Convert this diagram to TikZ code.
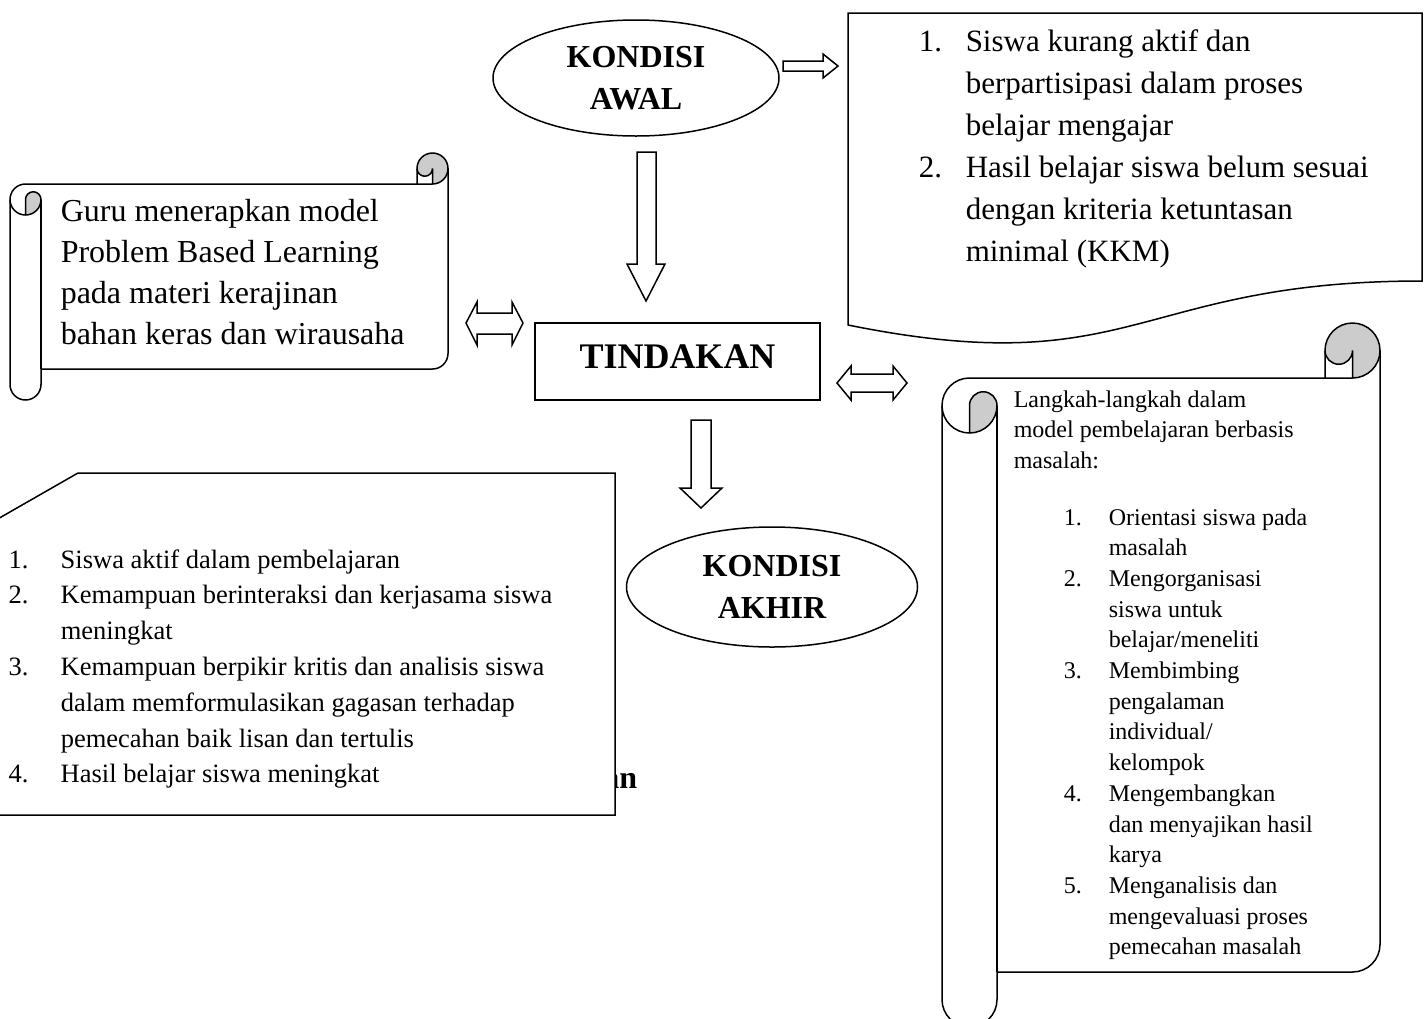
\documentclass[tikz,border=0pt]{standalone}
\usepackage{fontspec}
\setmainfont{Liberation Serif}
\usetikzlibrary{shapes.geometric}

% horizontal scroll: left, top, right, bottom, roll size
\newcommand{\scrollshape}[5]{
	\pgfmathsetmacro{\schh}{#5/2}
	\pgfmathsetmacro{\schq}{#5/4}
	\pgfmathsetmacro{\sxa}{#3-#5}
	\pgfmathsetmacro{\sxb}{#3-#5/2}
	\pgfmathsetmacro{\sla}{#1+#5}
	\pgfmathsetmacro{\slb}{#1+#5/2}
	\pgfmathsetmacro{\sta}{#2+#5}
	\pgfmathsetmacro{\stb}{#2+#5/2}
	\pgfmathsetmacro{\syc}{#2+1.5*#5}
	\pgfmathsetmacro{\syd}{#2+2*#5}
	\pgfmathsetmacro{\sye}{#4-1.5*#5}
	\pgfmathsetmacro{\syf}{#4-#5}
	\pgfmathsetmacro{\syg}{#4-#5/2}
	\path [save path = \scrollp] (#1,\syc) arc [start angle = 180, delta angle = 90, radius = \schh]
		-- (\sxa,\sta) -- (\sxa,\stb) arc [start angle = 180, delta angle = 180, radius = \schh]
		-- (#3,\sye) arc [start angle = 0, delta angle = 90, radius = \schh]
		-- (\sla,\syf) -- (\sla,\syg) arc [start angle = 0, delta angle = 180, radius = \schh] -- cycle;
	\fill [white, use path = \scrollp];
	% shaded curls
	\fill [scrollgray] (\slb,\syd) arc [start angle = 90, delta angle = -90, radius = \schh]
		arc [start angle = 0, delta angle = -180, radius = \schq] -- cycle;
	\fill [scrollgray] (\sxb,\sta) arc [start angle = 90, delta angle = -270, radius = \schh]
		arc [start angle = 180, delta angle = -180, radius = \schq] -- cycle;
	% curl lines
	\draw (\sxa,\sta) -- (\sxb,\sta) arc [start angle = 90, delta angle = -90, radius = \schh];
	\draw (\sxb,\sta) -- (\sxb,\stb) arc [start angle = 0, delta angle = 180, radius = \schq];
	\draw (\slb,\syd) -- (\slb,\syc) arc [start angle = 180, delta angle = 180, radius = \schq]
		arc [start angle = 0, delta angle = 180, radius = \schh];
	\draw (\sla,\syc) -- (\sla,\syf);
	\draw [use path = \scrollp];
}

\begin{document}
\begin{tikzpicture}
[
	x	= 1pt,	% one unit for one pixel
	y	= -1pt,	% y runs down the page
	line width = 1.5pt,
	scrollgray/.style = {fill = black!20},
	blockarrow/.style = {draw = black, fill = white, line join = miter},
	ovalbox/.style = {shape = ellipse, draw = black, fill = white, inner sep = 0pt, align = center, font = \fontsize{32}{42}\selectfont\bfseries},
]

\useasboundingbox (0,0) rectangle (1426,1018);
\clip (0,0) rectangle (1426,1018);

{
	% shapes
	\node (nAwal) [ovalbox, minimum width = 286pt, minimum height = 116pt] at (636,78) {KONDISI\\AWAL};
	\node (nTindakan) [shape = rectangle, draw = black, inner sep = 0pt, minimum width = 285pt, minimum height = 77pt, text depth = 9pt, font = \fontsize{36}{42}\selectfont\bfseries] at (677.5,361.5) {TINDAKAN};
	\node (nAkhir) [ovalbox, minimum width = 291pt, minimum height = 120pt] at (772,587) {KONDISI\\AKHIR};

	\draw [fill = white] (848,13) -- (1422,13) -- (1422,281) .. controls (1135,281) and (1135,383) .. (848,325) -- cycle;

	\scrollshape{10}{153}{448}{400}{31}
	\scrollshape{942}{323}{1380}{1027}{55}

	\node (nAn) [anchor = base east, inner sep = 0pt, font = \fontsize{32}{42}\selectfont\bfseries] at (638,788) {an};
	\draw [fill = white] (78,473) -- (615,473) -- (615,815) -- (-60,815) -- (-60,552) -- cycle;

	% texts
	\node (nMasalah) [anchor = base west, inner sep = 0pt, font = \fontsize{31}{42}\selectfont] at (918,51)
	{\begin{tabular}[t]{@{}p{47pt}@{}l@{}}
		1. & Siswa kurang aktif dan\\
		   & berpartisipasi dalam proses\\
		   & belajar mengajar\\
		2. & Hasil belajar siswa belum sesuai\\
		   & dengan kriteria ketuntasan\\
		   & minimal (KKM)
	\end{tabular}};
	\node (nGuru) [anchor = base west, inner sep = 0pt, font = \fontsize{32}{41}\selectfont] at (60,221)
	{\begin{tabular}[t]{@{}l@{}}
		Guru menerapkan model\\
		Problem Based Learning\\
		pada materi kerajinan\\
		bahan keras dan wirausaha
	\end{tabular}};
	\node (nLangkah) [anchor = base west, inner sep = 0pt, font = \fontsize{24}{30.7}\selectfont] at (1013,407)
	{\begin{tabular}[t]{@{}l@{}}
		Langkah-langkah dalam\\
		model pembelajaran berbasis\\
		masalah:
	\end{tabular}};
	\node (nLangkahList) [anchor = base west, inner sep = 0pt, font = \fontsize{24}{30.7}\selectfont] at (1063,525)
	{\begin{tabular}[t]{@{}p{45pt}@{}l@{}}
		1. & Orientasi siswa pada\\
		   & masalah\\
		2. & Mengorganisasi\\
		   & siswa untuk\\
		   & belajar/meneliti\\
		3. & Membimbing\\
		   & pengalaman\\
		   & individual/\\
		   & kelompok\\
		4. & Mengembangkan\\
		   & dan menyajikan hasil\\
		   & karya\\
		5. & Menganalisis dan\\
		   & mengevaluasi proses\\
		   & pemecahan masalah
	\end{tabular}};
	\node (nHasil) [anchor = base west, inner sep = 0pt, font = \fontsize{26.5}{35.8}\selectfont] at (8,568)
	{\begin{tabular}[t]{@{}p{52pt}@{}l@{}}
		1. & Siswa aktif dalam pembelajaran\\
		2. & Kemampuan berinteraksi dan kerjasama siswa\\
		   & meningkat\\
		3. & Kemampuan berpikir kritis dan analisis siswa\\
		   & dalam memformulasikan gagasan terhadap\\
		   & pemecahan baik lisan dan tertulis\\
		4. & Hasil belajar siswa meningkat
	\end{tabular}};

	% block arrows
	\draw [blockarrow] (783,61) -- (823,61) -- (823,54) -- (838,66) -- (823,78) -- (823,71) -- (783,71) -- cycle;
	\draw [blockarrow] (637,152) -- (656,152) -- (656,264) -- (665,264) -- (646,301) -- (627,264) -- (637,264) -- cycle;
	\draw [blockarrow] (466,323) -- (477,302) -- (477,313) -- (512,313) -- (512,302) -- (523,323) -- (512,345) -- (512,334) -- (477,334) -- (477,345) -- cycle;
	\draw [blockarrow] (837,383) -- (851,366) -- (851,374) -- (893,374) -- (893,366) -- (907,383) -- (893,400) -- (893,392) -- (851,392) -- (851,400) -- cycle;
	\draw [blockarrow] (691,420) -- (711,420) -- (711,488) -- (722,488) -- (701,508) -- (680,488) -- (691,488) -- cycle;
}

\end{tikzpicture}
\end{document}
